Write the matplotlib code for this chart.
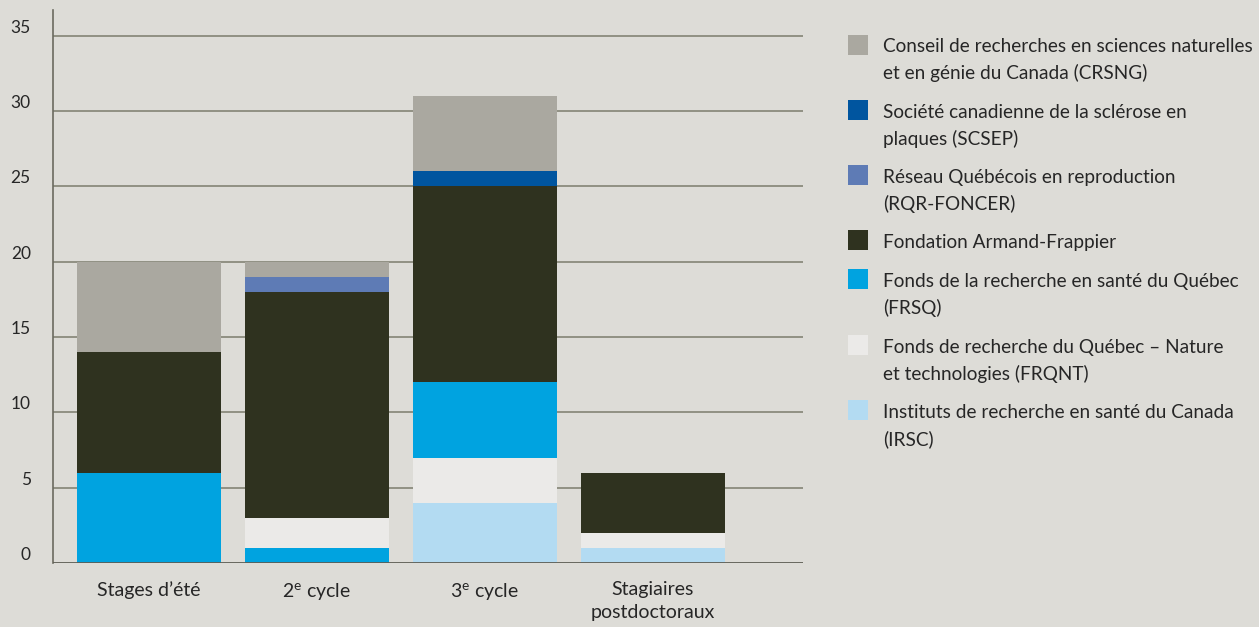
import numpy as np
import matplotlib.pyplot as plt
from matplotlib.patches import Rectangle

# Data
categories = ["Stages d’été", "2$^{\\mathrm{e}}$ cycle", "3$^{\\mathrm{e}}$ cycle", "Stagiaires\npostdoctoraux"]
irsc = [0, 0, 4, 1]
frqnt = [0, 2, 3, 1]
frsq = [6, 1, 5, 0]
fondation = [8, 15, 13, 4]
rqr = [0, 1, 0, 0]
scsep = [0, 0, 1, 0]
crsng = [6, 1, 5, 0]
yticks = [0, 5, 10, 15, 20, 25, 30, 35]

values = {"irsc": irsc, "frqnt": frqnt, "frsq": frsq, "fondation": fondation,
          "rqr": rqr, "scsep": scsep, "crsng": crsng}
colors = {"irsc": "#b3dbf2", "frqnt": "#ebeae8", "frsq": "#00a3e0", "fondation": "#2f321f",
          "rqr": "#5e7bb5", "scsep": "#00559f", "crsng": "#aaa8a0"}
# stacking order (bottom -> top) as drawn in the original, per bar
order_default = ["irsc", "frqnt", "frsq", "fondation", "rqr", "scsep", "crsng"]
order_2e = ["irsc", "frsq", "frqnt", "fondation", "rqr", "scsep", "crsng"]

legend_keys = ["crsng", "scsep", "rqr", "fondation", "frsq", "frqnt", "irsc"]
legend_labels = [
    "Conseil de recherches en sciences naturelles\net en génie du Canada (CRSNG)",
    "Société canadienne de la sclérose en\nplaques (SCSEP)",
    "Réseau Québécois en reproduction\n(RQR-FONCER)",
    "Fondation Armand-Frappier",
    "Fonds de la recherche en santé du Québec\n(FRSQ)",
    "Fonds de recherche du Québec – Nature\net technologies (FRQNT)",
    "Instituts de recherche en santé du Canada\n(IRSC)",
]

bg = "#dddcd7"
txt = "#262626"
plt.rcParams['font.family'] = ['Lato', 'DejaVu Sans']
plt.rcParams['mathtext.fontset'] = 'custom'
plt.rcParams['mathtext.rm'] = 'Lato'
plt.rcParams['mathtext.it'] = 'Lato'

fig = plt.figure(figsize=(12.59, 6.27), dpi=100, facecolor=bg)
ax = fig.add_axes([0.0421, 0.1021, 0.5957, 0.8819])
ax.set_facecolor(bg)

x = np.arange(len(categories))
for i in x:
    order = order_2e if i == 1 else order_default
    b = 0
    for k in order:
        v = values[k][i]
        if v:
            ax.bar(i, v, bottom=b, width=0.857, color=colors[k], zorder=3, linewidth=0)
            b += v

ax.set_xlim(-0.571, 3.893)
ax.set_ylim(0, 36.7)

# gridlines
for yv in yticks[1:]:
    ax.axhline(yv, color="#8b8b7d", lw=1.3, zorder=1)
ax.axhline(0, color="#5e5e55", lw=1.3, zorder=4)

for s in ["top", "right", "bottom"]:
    ax.spines[s].set_visible(False)
ax.spines["left"].set_color("#6b6b60")
ax.spines["left"].set_linewidth(1.2)

ax.set_yticks(yticks)
ax.set_yticklabels([str(v) for v in yticks])
ax.tick_params(axis='y', length=0, pad=16, labelsize=12.5, labelcolor=txt)
for lab in ax.get_yticklabels():
    lab.set_va('bottom')
ax.set_xticks(x)
ax.set_xticklabels(categories, fontsize=14, color=txt, linespacing=1.45)
ax.tick_params(axis='x', length=0, pad=13)
for lab in ax.get_xticklabels():
    lab.set_va('top')

# legend drawn manually
W, H = 1259, 627
square_tops = [35, 100, 165, 230, 269, 335, 400]
text_tops = [38, 104, 169, 234, 273, 339, 404]
for top, ttop, lab, k in zip(square_tops, text_tops, legend_labels, legend_keys):
    fig.patches.append(Rectangle((848 / W, 1 - (top + 20) / H), 20 / W, 20 / H,
                                 transform=fig.transFigure, facecolor=colors[k], edgecolor='none'))
    fig.text(883 / W, 1 - ttop / H, lab, fontsize=13.7, color=txt,
             va='top', ha='left', linespacing=1.62)

fig.savefig("out.png", dpi=100, facecolor=bg)
